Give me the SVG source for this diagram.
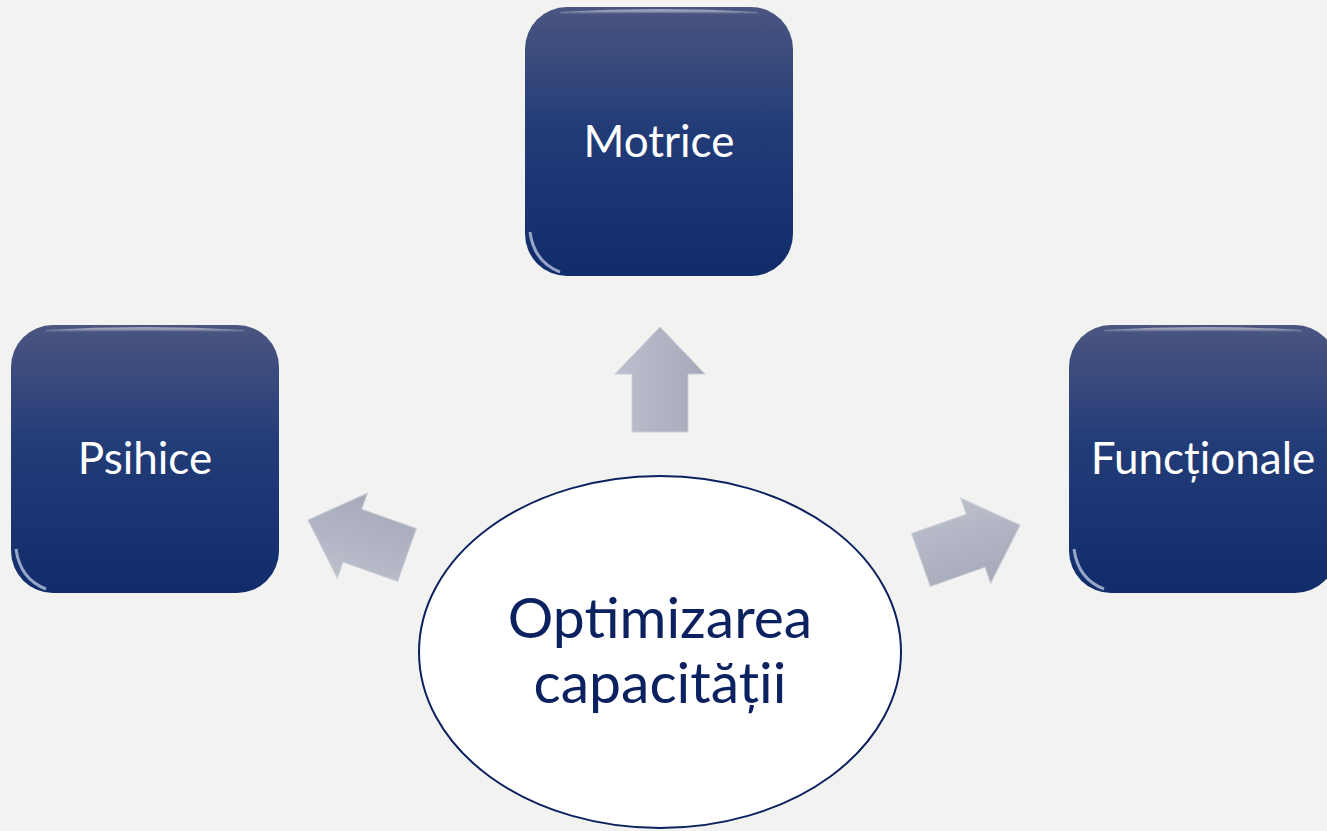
<svg xmlns="http://www.w3.org/2000/svg" width="1327" height="831" viewBox="0 0 1327 831">
<defs>
<linearGradient id="boxg" x1="0" y1="0" x2="0" y2="1">
<stop offset="0" stop-color="#4b5580"/>
<stop offset="0.45" stop-color="#223c78"/>
<stop offset="1" stop-color="#102c6a"/>
</linearGradient>
<linearGradient id="shine" x1="0" y1="0" x2="0" y2="1">
<stop offset="0" stop-color="#ffffff" stop-opacity="0.45"/>
<stop offset="1" stop-color="#ffffff" stop-opacity="0"/>
</linearGradient>
<linearGradient id="arrg" x1="0" y1="0" x2="0" y2="1">
<stop offset="0" stop-color="#bcbfcc"/>
<stop offset="1" stop-color="#a5a9b9"/>
</linearGradient>
<path id="arrow" d="M0,-28 L58,-28 L58,-45 L105,0 L58,45 L58,28 L0,28 Z"/>
</defs>
<style>
.box{fill:url(#boxg);}
.gloss{fill:none;stroke:url(#shine);stroke-width:4;}
.lbl{font-family:"Lato","Open Sans",sans-serif;font-size:44px;fill:#ffffff;text-anchor:middle;}
.ctr{font-family:"Lato","Open Sans",sans-serif;font-size:57px;fill:#0c2260;text-anchor:middle;}
.arr{fill:url(#arrg);stroke:#c9ccd6;stroke-width:1;}
</style>
<rect width="1327" height="831" fill="#f2f2f0"/>
<g id="connectors">
<use href="#arrow" class="arr" transform="translate(660,432) rotate(-90)"/>
<use href="#arrow" class="arr" transform="translate(407,555) rotate(199.5)"/>
<use href="#arrow" class="arr" transform="translate(921,560) rotate(-19.4)"/>
</g>
<g id="motrice">
<rect class="box" x="525" y="7" width="268" height="269" rx="42"/>
<path class="gloss" d="M560,14 Q659,8 758,14"/>
<path d="M530,232 Q534,262 560,272" fill="none" stroke="#cfd8f0" stroke-width="3" stroke-opacity="0.7"/>
<text class="lbl" x="659" y="157">Motrice</text>
</g>
<g id="psihice">
<rect class="box" x="11" y="325" width="268" height="268" rx="42"/>
<path class="gloss" d="M46,332 Q145,326 244,332"/>
<path d="M16,549 Q20,579 46,589" fill="none" stroke="#cfd8f0" stroke-width="3" stroke-opacity="0.7"/>
<text class="lbl" x="145" y="474">Psihice</text>
</g>
<g id="functionale">
<rect class="box" x="1069" y="325" width="268" height="268" rx="42"/>
<path class="gloss" d="M1104,332 Q1203,326 1302,332"/>
<path d="M1074,549 Q1078,579 1104,589" fill="none" stroke="#cfd8f0" stroke-width="3" stroke-opacity="0.7"/>
<text class="lbl" x="1203" y="474">Funcționale</text>
</g>
<g id="optimizarea">
<ellipse cx="660" cy="652" rx="241" ry="176" fill="#ffffff" stroke="#0d2060" stroke-width="2"/>
<text class="ctr" x="660" y="638">Optimizarea</text>
<text class="ctr" x="660" y="703">capacității</text>
</g>
</svg>
